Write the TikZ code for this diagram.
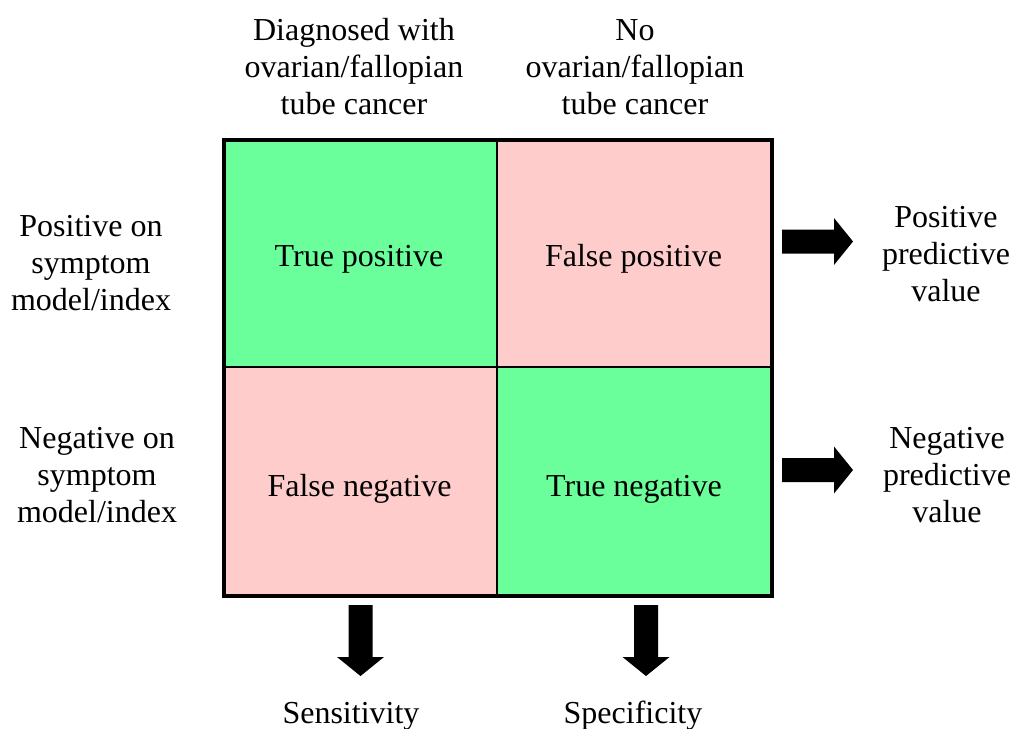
\documentclass[tikz,border=0pt]{standalone}
\usepackage{fontspec}
\setmainfont{Liberation Serif}
\definecolor{cellgreen}{RGB}{106,255,155}
\definecolor{cellpink}{RGB}{255,204,204}
\tikzset{
  lbl/.style={inner sep=0pt, align=center, font=\fontsize{32}{37}\selectfont},
  celltext/.style={inner sep=0pt, anchor=base, font=\fontsize{32}{37}\selectfont},
  gridline/.style={line width=1.5pt},
  frame/.style={line width=4pt},
  blockarrow/.pic={\fill[black] (0,-12) -- (52,-12) -- (52,-23.5) -- (71,0)
                    -- (52,23.5) -- (52,12) -- (0,12) -- cycle;},
}
\begin{document}
\begin{tikzpicture}[x=1pt,y=-1pt]
\useasboundingbox (0,0) rectangle (1017,728);

% the four cells of the table
\fill[cellgreen] (224,140) rectangle (497,367);
\fill[cellpink]  (497,140) rectangle (772,367);
\fill[cellpink]  (224,367) rectangle (497,596);
\fill[cellgreen] (497,367) rectangle (772,596);
\draw[gridline] (497,140) -- (497,596);
\draw[gridline] (224,367) -- (772,367);
\draw[frame] (224,140) rectangle (772,596);

% cell texts
\node[celltext] (tp) at (359,266) {True positive};
\node[celltext] (fp) at (633.5,266) {False positive};
\node[celltext] (fn) at (359.5,496) {False negative};
\node[celltext] (tn) at (634,496) {True negative};

% column headings
\node[lbl] (colA) at (354,66.6) {Diagnosed with\\ovarian/fallopian\\tube cancer};
\node[lbl] (colB) at (635,67) {No\\ovarian/fallopian\\tube cancer};

% row headings
\node[lbl] (rowA) at (91,263) {Positive on\\symptom\\model/index};
\node[lbl] (rowB) at (97,475) {Negative on\\symptom\\model/index};

% outcomes to the right
\node[lbl] (ppv) at (946,254.5) {Positive\\predictive\\value};
\node[lbl] (npv) at (947,475) {Negative\\predictive\\value};

% outcomes below
\node[celltext] (sens) at (351,723) {Sensitivity};
\node[celltext] (spec) at (633,723) {Specificity};

% block arrows
\coordinate (ra) at (782,241.5);
\coordinate (rb) at (782,470);
\coordinate (da) at (360.5,605);
\coordinate (db) at (646,605);
\pic at (ra) {blockarrow};
\pic at (rb) {blockarrow};
\pic[rotate=-90] at (da) {blockarrow};
\pic[rotate=-90] at (db) {blockarrow};
\end{tikzpicture}
\end{document}
